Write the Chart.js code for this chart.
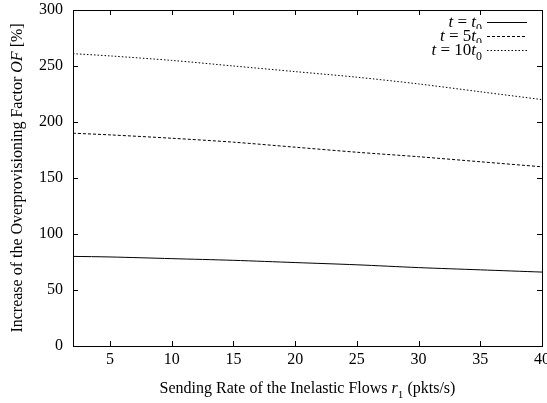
<!DOCTYPE html>
<html>
<head>
<meta charset="utf-8">
<script src="https://cdn.jsdelivr.net/npm/chart.js@4.4.1/dist/chart.umd.min.js"></script>
<style>
  body { margin: 0; background: #fff; }
</style>
</head>
<body>
<canvas id="ofChart" width="547" height="403"></canvas>
<script>
// sending rate r1 (pkts/s)
const rates = [2, 5, 10, 15, 20, 25, 30, 35, 40];
// increase of OF [%] for each time
const ofT0 = [80, 79.5, 78, 76.5, 74.5, 72.5, 70, 68, 66];
const of5T0 = [190, 188.5, 185.5, 182, 177.5, 173, 169, 164.5, 160];
const of10T0 = [261, 259, 255, 250, 245, 240, 234, 227, 220];

const xTicks = [5, 10, 15, 20, 25, 30, 35, 40];
const yTicks = [0, 50, 100, 150, 200, 250, 300];

const FONT = '"Liberation Serif", "Times New Roman", serif';

function toPoints(values) {
    return rates.map((r, i) => ({ x: r, y: values[i] }));
}

// draw text made of parts, some italic, some subscript
function drawRich(ctx, parts, x, y, align, size) {
    let widths = parts.map(p => {
        ctx.font = (p.italic ? 'italic ' : '') + (p.sub ? size * 0.7 : size) + 'px ' + FONT;
        return ctx.measureText(p.text).width;
    });
    let total = widths.reduce((a, b) => a + b, 0);
    let cx = x;
    if (align === 'right') cx = x - total;
    if (align === 'center') cx = x - total / 2;
    ctx.textAlign = 'left';
    ctx.textBaseline = 'alphabetic';
    parts.forEach((p, i) => {
        ctx.font = (p.italic ? 'italic ' : '') + (p.sub ? size * 0.7 : size) + 'px ' + FONT;
        ctx.fillText(p.text, cx, p.sub ? y + size * 0.3 : y);
        cx += widths[i];
    });
}

const legendLabels = [
    [{ text: 't', italic: true }, { text: ' = ' }, { text: 't', italic: true }, { text: '0', sub: true }],
    [{ text: 't', italic: true }, { text: ' = 5' }, { text: 't', italic: true }, { text: '0', sub: true }],
    [{ text: 't', italic: true }, { text: ' = 10' }, { text: 't', italic: true }, { text: '0', sub: true }]
];

const decorPlugin = {
    id: 'decor',
    afterDraw(chart) {
        const ctx = chart.ctx;
        const area = chart.chartArea;
        const xs = chart.scales.x;
        const ys = chart.scales.y;
        ctx.save();
        ctx.strokeStyle = '#000';
        ctx.fillStyle = '#000';
        ctx.lineWidth = 1;

        // inward ticks on all four sides
        ctx.beginPath();
        xs.ticks.forEach(t => {
            let px = Math.round(xs.getPixelForValue(t.value)) + 0.5;
            ctx.moveTo(px, area.bottom); ctx.lineTo(px, area.bottom - 5);
            ctx.moveTo(px, area.top); ctx.lineTo(px, area.top + 5);
        });
        ys.ticks.forEach(t => {
            let py = Math.round(ys.getPixelForValue(t.value)) + 0.5;
            ctx.moveTo(area.left, py); ctx.lineTo(area.left + 5, py);
            ctx.moveTo(area.right, py); ctx.lineTo(area.right - 5, py);
        });
        ctx.stroke();

        // frame
        ctx.strokeRect(Math.round(area.left) + 0.5, Math.round(area.top) + 0.5,
            Math.round(area.right - area.left), Math.round(area.bottom - area.top));

        // legend
        chart.data.datasets.forEach((ds, i) => {
            let y = area.top + 12 + i * 14;
            ctx.fillStyle = '#fff';
            ctx.fillRect(area.right - 130, y - 7, 122, 14);
            ctx.fillStyle = '#000';
            drawRich(ctx, legendLabels[i], area.right - 60, y + 5, 'right', 17);
            ctx.beginPath();
            ctx.setLineDash(ds.borderDash || []);
            ctx.moveTo(area.right - 55, y + 0.5);
            ctx.lineTo(area.right - 15, y + 0.5);
            ctx.stroke();
            ctx.setLineDash([]);
        });

        // axis titles
        let midX = (area.left + area.right) / 2;
        drawRich(ctx, [
            { text: 'Sending Rate of the Inelastic Flows ' },
            { text: 'r', italic: true },
            { text: '1', sub: true },
            { text: ' (pkts/s)' }
        ], midX, 393, 'center', 16);

        ctx.translate(22, (area.top + area.bottom) / 2);
        ctx.rotate(-Math.PI / 2);
        drawRich(ctx, [
            { text: 'Increase of the Overprovisioning Factor ' },
            { text: 'OF', italic: true },
            { text: ' [%]' }
        ], 0, 0, 'center', 16);
        ctx.restore();
    }
};

const ctx = document.getElementById('ofChart').getContext('2d');
const ofChart = new Chart(ctx, {
    type: 'line',
    data: {
        datasets: [
            { label: 't = t0', data: toPoints(ofT0), borderColor: '#000', borderWidth: 1, borderDash: [] },
            { label: 't = 5t0', data: toPoints(of5T0), borderColor: '#000', borderWidth: 1, borderDash: [3, 2] },
            { label: 't = 10t0', data: toPoints(of10T0), borderColor: '#000', borderWidth: 1, borderDash: [1.5, 2] }
        ]
    },
    options: {
        responsive: false,
        animation: false,
        devicePixelRatio: 1,
        layout: { padding: { left: 0, right: 5, top: 10, bottom: 0 } },
        elements: { point: { radius: 0 }, line: { tension: 0.3 } },
        plugins: { legend: { display: false }, tooltip: { enabled: false } },
        scales: {
            x: {
                type: 'linear',
                min: 2,
                max: 40,
                afterBuildTicks: s => { s.ticks = xTicks.map(v => ({ value: v })); },
                afterFit: s => { s.height = 57; s.paddingLeft = 0; s.paddingRight = 0; },
                grid: { display: false, drawTicks: false },
                border: { display: false },
                ticks: { color: '#000', padding: 4, maxRotation: 0, font: { family: FONT, size: 16 } }
            },
            y: {
                min: 0,
                max: 300,
                afterBuildTicks: s => { s.ticks = yTicks.map(v => ({ value: v })); },
                afterFit: s => { s.width = 73; s.paddingTop = 0; s.paddingBottom = 0; },
                grid: { display: false, drawTicks: false },
                border: { display: false },
                ticks: { color: '#000', padding: 10, font: { family: FONT, size: 16 } }
            }
        }
    },
    plugins: [decorPlugin]
});
</script>
</body>
</html>
